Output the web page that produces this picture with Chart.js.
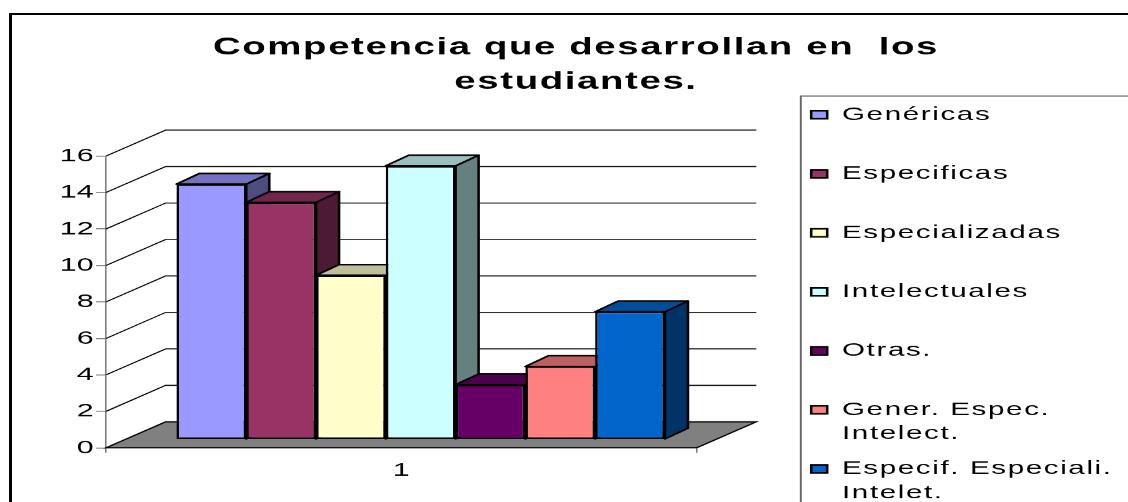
<!DOCTYPE html>
<html lang="es">
<head>
  <meta charset="UTF-8">
  <title>Competencia que desarrollan en los estudiantes</title>
  <script src="https://cdn.jsdelivr.net/npm/chart.js"></script>
  <style>
    html, body { margin: 0; padding: 0; background: #fff; overflow: hidden; }
    .frame { position: absolute; left: 9px; top: 13px; width: 1300px; height: 700px;
             border-left: 3px solid #000; border-top: 2px solid #000; }
    /* the original picture is stretched sideways, so draw narrow and widen */
    .wrap { position: absolute; left: 0; top: 0; width: 705px; height: 502px;
            transform: scaleX(1.6); transform-origin: 0 0; }
  </style>
</head>
<body>
  <div class="frame"></div>
  <div class="wrap"><canvas id="chart"></canvas></div>

  <script>
    const categories = ['1'];
    const seriesNames = ['Genéricas', 'Especificas', 'Especializadas', 'Intelectuales', 'Otras.',
                         'Gener. Espec.\nIntelect.', 'Especif. Especiali.\nIntelet.'];
    const seriesValues = [14, 13, 9, 15, 3, 4, 7];
    const seriesColors = ['#9999FF', '#993366', '#FFFFCC', '#CCFFFF', '#660066', '#FF8080', '#0066CC'];
    const yMin = 0, yMax = 16, yStep = 2;

    const FONT = "'Liberation Sans', Arial, sans-serif";
    const LEGEND_SPACING = '1px';
    const WALL = { dx: 37.3, dy: -26 };       // floor / back wall depth
    const BAR_SHIFT = { dx: 12.1, dy: -8.4 };  // bars stand behind the front edge
    const BAR_DEPTH = { dx: 14.4, dy: -10.7 };

    function shade(hex, f) {
      const n = parseInt(hex.slice(1), 16);
      const r = Math.round((n >> 16 & 255) * f);
      const g = Math.round((n >> 8 & 255) * f);
      const b = Math.round((n & 255) * f);
      return `rgb(${r},${g},${b})`;
    }

    function poly(ctx, pts, fill) {
      ctx.beginPath();
      ctx.moveTo(pts[0][0], pts[0][1]);
      for (let i = 1; i < pts.length; i++) ctx.lineTo(pts[i][0], pts[i][1]);
      ctx.closePath();
      ctx.fillStyle = fill;
      ctx.fill();
      ctx.stroke();
    }

    const excel3d = {
      id: 'excel3d',
      beforeLayout(chart) { chart.ctx.letterSpacing = LEGEND_SPACING; },
      beforeDraw(chart) { chart.ctx.letterSpacing = LEGEND_SPACING; },
      beforeDatasetsDraw(chart) {
        const { ctx, chartArea: a, scales: { y } } = chart;
        const y0 = y.getPixelForValue(0);
        ctx.save();

        // floor
        ctx.strokeStyle = '#000';
        ctx.lineWidth = 1.2;
        poly(ctx, [[a.left, y0], [a.right, y0], [a.right + WALL.dx, y0 + WALL.dy], [a.left + WALL.dx, y0 + WALL.dy]], '#808080');

        // gridlines on the side and back walls
        ctx.lineWidth = 1;
        y.ticks.forEach(t => {
          if (t.value === 0) return;
          const py = y.getPixelForValue(t.value);
          ctx.beginPath();
          ctx.moveTo(a.left, py);
          ctx.lineTo(a.left + WALL.dx, py + WALL.dy);
          ctx.lineTo(a.right + WALL.dx, py + WALL.dy);
          ctx.stroke();
        });

        // side and top faces, left to right; fronts come from Chart.js
        ctx.lineWidth = 1.6;
        ctx.lineJoin = 'round';
        chart.data.datasets.forEach((ds, i) => {
          chart.getDatasetMeta(i).data.forEach(el => {
            const p = el.getProps(['x', 'y', 'base', 'width'], true);
            const l = p.x - p.width / 2 + BAR_SHIFT.dx, r = p.x + p.width / 2 + BAR_SHIFT.dx;
            const t = p.y + BAR_SHIFT.dy, b = p.base + BAR_SHIFT.dy;
            poly(ctx, [[r, t], [r + BAR_DEPTH.dx, t + BAR_DEPTH.dy], [r + BAR_DEPTH.dx, b + BAR_DEPTH.dy], [r, b]], shade(ds.backgroundColor, 0.5));
            poly(ctx, [[l, t], [r, t], [r + BAR_DEPTH.dx, t + BAR_DEPTH.dy], [l + BAR_DEPTH.dx, t + BAR_DEPTH.dy]], shade(ds.backgroundColor, 0.75));
          });
        });
        ctx.restore();

        ctx.save();
        ctx.translate(BAR_SHIFT.dx, BAR_SHIFT.dy);
      },
      afterDatasetsDraw(chart) {
        chart.ctx.restore();
        chart.ctx.letterSpacing = '0px';
      },
      afterDraw(chart) {
        const { ctx } = chart;
        const hb = chart.legend.legendHitBoxes[0];
        if (!hb) return;
        ctx.save();
        ctx.strokeStyle = '#666';
        ctx.lineWidth = 1.2;
        ctx.strokeRect(hb.left - 6.5, hb.top - 9.5, chart.width, chart.height);
        ctx.restore();
      }
    };

    new Chart(document.getElementById('chart'), {
      type: 'bar',
      data: {
        labels: categories,
        datasets: seriesNames.map((name, i) => ({
          label: name,
          data: [seriesValues[i]],
          backgroundColor: seriesColors[i],
          borderColor: '#000',
          borderWidth: 1.6,
          borderSkipped: false,
          clip: false
        }))
      },
      options: {
        responsive: true,
        maintainAspectRatio: false,
        animation: false,
        devicePixelRatio: 1.6,
        datasets: { bar: { categoryPercentage: 0.827, barPercentage: 1 } },
        layout: { padding: { top: 0, left: 15, right: 0, bottom: -16.5 } },
        plugins: {
          title: {
            display: true,
            text: ['Competencia que desarrollan en  los', 'estudiantes.'],
            color: '#000',
            font: { family: FONT, size: 24, weight: 'bold', lineHeight: 34 / 24 },
            padding: { top: 31, bottom: 57 }
          },
          legend: {
            position: 'right',
            align: 'end',
            maxWidth: 209,
            labels: {
              color: '#000',
              font: { family: FONT, size: 18.5, lineHeight: 24 / 18.5 },
              boxWidth: 10,
              boxHeight: 8,
              padding: 11,
              generateLabels(chart) {
                const items = Chart.defaults.plugins.legend.labels.generateLabels(chart);
                items.forEach(it => {
                  const lines = it.text.split('\n');
                  while (lines.length < 2) lines.push('');
                  it.text = lines;
                });
                return items;
              }
            }
          },
          tooltip: { enabled: false }
        },
        scales: {
          x: {
            grid: { drawOnChartArea: false, tickLength: 5, color: '#808080' },
            border: { display: false },
            ticks: { color: '#000', font: { family: FONT, size: 19 }, padding: 6, z: 1 },
            afterFit(s) { s.height = 70.8; }
          },
          y: {
            min: yMin,
            max: yMax,
            ticks: { stepSize: yStep, color: '#000', font: { family: FONT, size: 19 }, padding: 1.5, z: 1 },
            grid: { drawOnChartArea: false, tickLength: 6.25, color: '#808080' },
            border: { color: '#808080' },
            afterFit(s) { s.width = 51.25; }
          },
          y2: {
            position: 'right',
            ticks: { display: false },
            grid: { display: false },
            border: { display: false },
            afterFit(s) { s.width = 60.6; }
          }
        }
      },
      plugins: [excel3d]
    });
  </script>
</body>
</html>
